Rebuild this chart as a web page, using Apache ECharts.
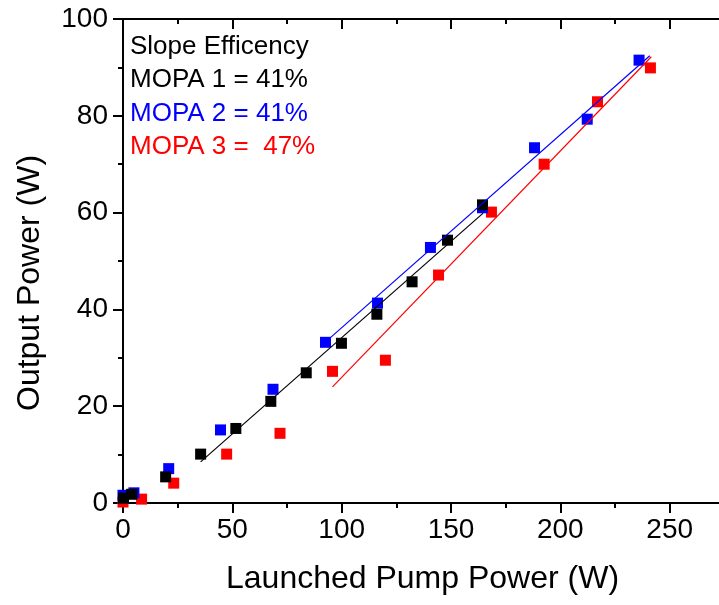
<!DOCTYPE html>
<html>
<head>
<meta charset="utf-8">
<script src="https://cdn.jsdelivr.net/npm/echarts@6/dist/echarts.min.js"></script>
<style>
  html, body { margin: 0; padding: 0; background: #fff; }
  #main { width: 719px; height: 605px; }
</style>
</head>
<body>
<div id="main"></div>
<script>
var chart = echarts.init(document.getElementById('main'));

// measured points (launched pump W, output W)
var mopa1 = [[0.2,1.0],[4,1.8],[19.5,5.4],[35.5,10.1],[51.6,15.4],[67.6,21.0],[83.8,26.9],[99.9,33.0],[116.1,39.0],[132.2,45.7],[148.4,54.3],[164.4,61.6]];
var mopa2 = [[0,1.6],[5,2.1],[20.9,7.1],[44.6,15.1],[68.6,23.5],[92.6,33.2],[116.4,41.3],[140.6,52.8],[164.4,61.0],[188.2,73.4],[212.3,79.3],[236,91.5]];
var mopa3 = [[0,0.2],[8.5,0.8],[23.2,4.1],[47.4,10.1],[71.8,14.4],[95.8,27.2],[120,29.5],[144.3,47.1],[168.5,60.1],[192.6,70.0],[217,82.9],[241.2,89.9]];

// linear fits (end points)
var fit1 = [[35.5,8.5],[164.7,59.9]];
var fit2 = [[93.7,33.7],[240.9,92.4]];
var fit3 = [[95.8,24.0],[241.6,92.2]];

var notes = ['Slope Efficency', 'MOPA 1 = 41%', 'MOPA 2 = 41%', 'MOPA 3 =  47%'];
var noteColors = ['#000', '#000', '#0000ff', '#ff0000'];

var font = 'Liberation Sans, Arial, sans-serif';

function xAx(pos){
    var top = pos == 'top';
    return {
        type: 'value',
        position: pos,
        min: 0,
        max: 300,
        interval: 50,
        axisLine: {onZero: false, lineStyle: {color: '#000', width: 2}},
        axisTick: {inside: top, length: 10, lineStyle: {color: '#000', width: 2}},
        minorTick: {show: true, splitNumber: 2, length: 5, lineStyle: {color: '#000', width: 2}},
        splitLine: {show: false},
        minorSplitLine: {show: false},
        axisLabel: {show: !top, showMaxLabel: false, margin: 13, color: '#000', fontSize: 28, fontFamily: font}
    };
}

function scatter(name, data, color){
    return {
        name: name,
        type: 'scatter',
        symbol: 'rect',
        symbolSize: 11,
        itemStyle: {color: color, opacity: 1},
        data: data,
        z: 3
    };
}

function fitLine(data, color){
    return {
        type: 'line',
        data: data,
        symbol: 'none',
        lineStyle: {color: color, width: 1.2},
        z: 4
    };
}

var texts = [];
for (var i = 0; i < notes.length; i++) {
    texts.push({
        type: 'text',
        left: 130,
        top: 34 + i * 33.3,
        style: {text: notes[i], fill: noteColors[i], fontSize: 26, fontFamily: font}
    });
}
texts.push({
    type: 'text',
    left: 226,
    top: 563,
    style: {text: 'Launched Pump Power (W)', fill: '#000', fontSize: 32, fontFamily: font}
});
texts.push({
    type: 'text',
    x: 14,
    y: 411,
    rotation: Math.PI / 2,
    style: {text: 'Output Power (W)', fill: '#000', fontSize: 32, fontFamily: font, textVerticalAlign: 'top'}
});

option = {
    backgroundColor: '#fff',
    animation: false,
    // plot box runs past the right edge of the picture (x = 300 sits off-canvas)
    grid: {left: 123, width: 656, top: 19, bottom: 102, outerBoundsMode: 'none', containLabel: false},
    xAxis: [xAx('bottom'), xAx('top')],
    yAxis: {
        type: 'value',
        min: 0,
        max: 100,
        interval: 20,
        axisLine: {onZero: false, lineStyle: {color: '#000', width: 2}},
        axisTick: {length: 10, lineStyle: {color: '#000', width: 2}},
        minorTick: {show: true, splitNumber: 2, length: 5, lineStyle: {color: '#000', width: 2}},
        splitLine: {show: false},
        minorSplitLine: {show: false},
        axisLabel: {margin: 15, color: '#000', fontSize: 28, fontFamily: font}
    },
    series: [
        scatter('MOPA 3', mopa3, '#ff0000'),
        scatter('MOPA 2', mopa2, '#0000ff'),
        scatter('MOPA 1', mopa1, '#000000'),
        fitLine(fit1, '#000000'),
        fitLine(fit2, '#0000ff'),
        fitLine(fit3, '#ff0000')
    ],
    graphic: texts
};
chart.setOption(option);
</script>
</body>
</html>
